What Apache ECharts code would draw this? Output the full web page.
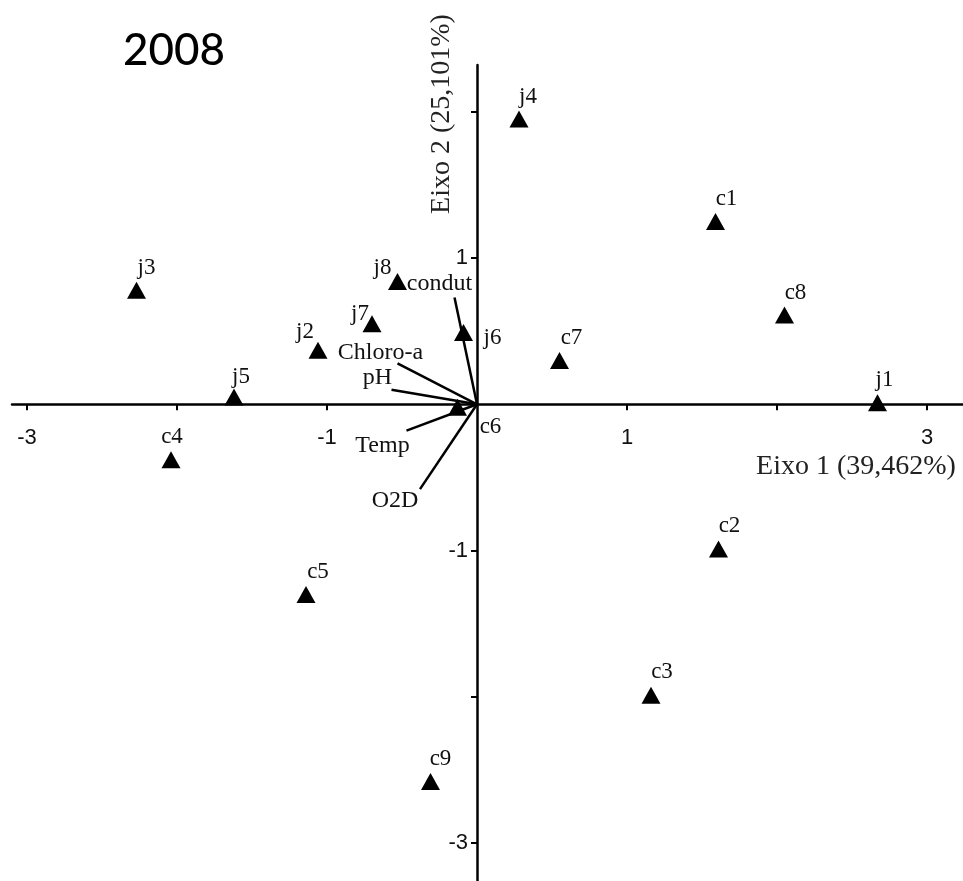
<!DOCTYPE html>
<html lang="pt">
<head>
  <meta charset="UTF-8">
  <title>PCA 2008</title>
  <script src="https://cdn.jsdelivr.net/npm/echarts@6/dist/echarts.min.js"></script>
  <style>
    html, body { margin: 0; padding: 0; background: #fff; }
  </style>
</head>
<body>
<div id="main" style="width:963px;height:881px;"></div>
<script>
  // pontos (estações) - eixo 1 / eixo 2
  var siteNames = ['j4', 'c1', 'j3', 'j8', 'j7', 'j2', 'j6', 'c7', 'c8', 'j5', 'j1', 'c6', 'c4', 'c2', 'c5', 'c3', 'c9'];
  var siteX = [0.28, 1.59, -2.27, -0.53, -0.70, -1.06, -0.09, 0.55, 2.05, -1.62, 2.67, -0.13, -2.04, 1.61, -1.14, 1.16, -0.31];
  var siteY = [1.95, 1.25, 0.78, 0.84, 0.55, 0.37, 0.49, 0.30, 0.61, 0.05, 0.01, -0.02, -0.38, -0.99, -1.30, -1.99, -2.58];

  // variáveis ambientais (vetores)
  var varNames = ['condut', 'Chloro-a', 'pH', 'Temp', 'O2D'];
  var varX = [-0.15, -0.53, -0.57, -0.47, -0.38];
  var varY = [0.73, 0.28, 0.10, -0.18, -0.58];

  var xTicks = [-3, -2, -1, 1, 2, 3];
  var xTickLabels = [-3, -1, 1, 3];
  var yTicks = [2, 1, -1, -2, -3];
  var yTickLabels = [1, -1, -3];

  // posição dos rótulos (deslocamento em px a partir do ponto)
  var siteLabelOffset = {
    j4: [9, -22], c1: [11, -23], j3: [10, -22], j8: [-15, -13], j7: [-12, -10],
    j2: [-13, -18], j6: [29, 5], c7: [12, -22], c8: [11, -22], j5: [7, -20],
    j1: [7, -23], c6: [33, 20], c4: [1, -23], c2: [11, -23], c5: [12, -22],
    c3: [11, -23], c9: [10, -23]
  };
  var varLabelOffset = {
    condut: [-15, -14], 'Chloro-a': [-17, -11], pH: [-14, -12], Temp: [-24, 15], O2D: [-25, 12]
  };

  var serif = '"Liberation Serif", "DejaVu Serif", serif';
  var sans = '"Liberation Sans", Arial, sans-serif';

  // área do gráfico
  var W = 963, H = 881;
  var gLeft = 12, gRight = 0, gTop = 65, gBottom = 0;
  var xMin = -3.1, xMax = 3.24, yMin = -3.26, yMax = 2.32;
  // eixos cruzando em zero (deslocamento a partir da borda do grid)
  var xAxisOffset = -((H - gTop - gBottom) * (0 - yMin) / (yMax - yMin));
  var yAxisOffset = -((W - gLeft - gRight) * (0 - xMin) / (xMax - xMin));

  var siteData = [];
  for (var i = 0; i < siteNames.length; i++) {
    siteData.push({
      name: siteNames[i],
      value: [siteX[i], siteY[i]],
      label: { offset: siteLabelOffset[siteNames[i]] }
    });
  }

  var vecLines = [];
  var vecEnds = [];
  for (var k = 0; k < varNames.length; k++) {
    vecLines.push({ coords: [[0, 0], [varX[k], varY[k]]] });
    vecEnds.push({
      name: varNames[k],
      value: [varX[k], varY[k]],
      label: { offset: varLabelOffset[varNames[k]] }
    });
  }

  var myChart = echarts.init(document.getElementById('main'));

  var option = {
    backgroundColor: '#fff',
    animation: false,
    title: {
      text: '2008',
      left: 118,
      top: 24,
      textStyle: { fontFamily: 'Lato, "Open Sans", sans-serif', fontSize: 44, fontWeight: 500, color: '#000' }
    },
    grid: { left: gLeft, right: gRight, top: gTop, bottom: gBottom, containLabel: false, outerBoundsMode: 'none' },
    xAxis: {
      type: 'value',
      min: xMin,
      max: xMax,
      position: 'bottom',
      offset: xAxisOffset,
      axisLine: { onZero: false, lineStyle: { color: '#000', width: 2.5 } },
      axisTick: { show: true, length: 6, customValues: xTicks, lineStyle: { color: '#000', width: 2 } },
      axisLabel: { customValues: xTickLabels, margin: 23, color: '#111', fontFamily: sans, fontSize: 22 },
      splitLine: { show: false }
    },
    yAxis: {
      type: 'value',
      min: yMin,
      max: yMax,
      position: 'left',
      offset: yAxisOffset,
      axisLine: { onZero: false, lineStyle: { color: '#000', width: 2.5 } },
      axisTick: { show: true, length: 6, customValues: yTicks, lineStyle: { color: '#000', width: 2 } },
      axisLabel: { customValues: yTickLabels, margin: 9, color: '#111', fontFamily: sans, fontSize: 22 },
      splitLine: { show: false }
    },
    graphic: [
      {
        type: 'text', x: 856, y: 467,
        style: { text: 'Eixo 1 (39,462%)', align: 'center', verticalAlign: 'middle', font: '28px ' + serif, fill: '#222' }
      },
      {
        type: 'text', x: 442, y: 114, rotation: Math.PI / 2,
        style: { text: 'Eixo 2 (25,101%)', align: 'center', verticalAlign: 'middle', font: '28px ' + serif, fill: '#222' }
      }
    ],
    series: [
      {
        type: 'lines',
        coordinateSystem: 'cartesian2d',
        data: vecLines,
        symbol: 'none',
        lineStyle: { color: '#000', width: 2.5, opacity: 1, curveness: 0 },
        silent: true
      },
      {
        type: 'scatter',
        data: vecEnds,
        symbolSize: 0,
        itemStyle: { opacity: 1 },
        label: {
          show: true,
          position: 'inside',
          formatter: '{b}',
          color: '#111',
          fontFamily: serif,
          fontSize: 24
        }
      },
      {
        type: 'scatter',
        data: siteData,
        symbol: 'triangle',
        symbolSize: [19, 17],
        itemStyle: { color: '#000', opacity: 1 },
        label: {
          show: true,
          position: 'inside',
          formatter: '{b}',
          color: '#111',
          fontFamily: serif,
          fontSize: 23
        }
      }
    ]
  };

  myChart.setOption(option);
</script>
</body>
</html>
